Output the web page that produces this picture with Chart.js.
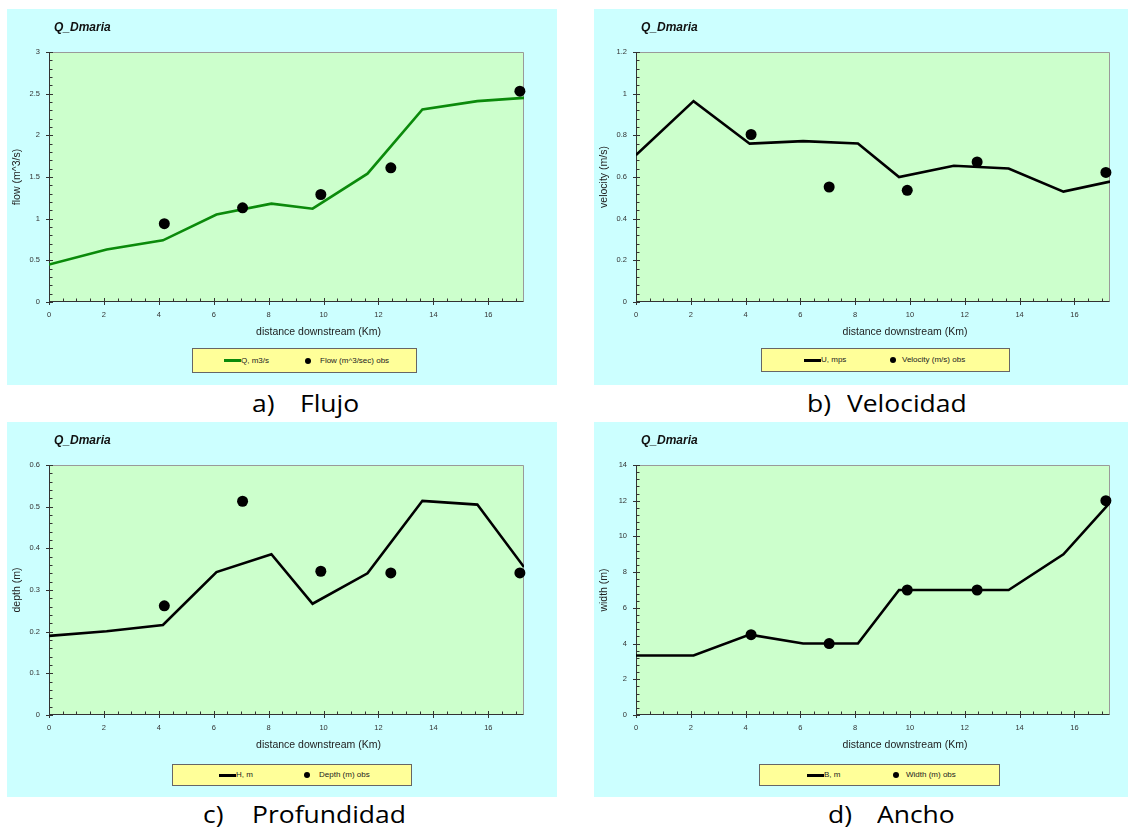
<!DOCTYPE html>
<html>
<head>
<meta charset="utf-8">
<script src="https://cdn.jsdelivr.net/npm/chart.js@4.4.1/dist/chart.umd.min.js"></script>
<style>
  body { margin: 0; width: 1131px; height: 828px; position: relative; overflow: hidden; background: #fff; font-family: "Liberation Sans", Arial, sans-serif; }
  canvas { position: absolute; }
  .legend { position: absolute; background: #ffff99; border: 1px solid #666; box-sizing: border-box; }
  .legend span { position: absolute; font-size: 8px; color: #222; white-space: nowrap; line-height: 10px; }
  .cap { position: absolute; font-family: "Open Sans", sans-serif; font-size: 23px; line-height: 23px; color: #000; white-space: nowrap; transform-origin: 0 0; transform: scaleX(1.15); }
</style>
</head>
<body>
<script>
// distances (km) of model nodes and of the observation stations
const distModel = [0, 2.1, 4.15, 6.1, 8.1, 9.6, 11.6, 13.6, 15.6, 17.3];
const distObs = [4.2, 7.05, 9.9, 12.45, 17.15];

const flowModel = [0.45, 0.63, 0.74, 1.05, 1.18, 1.12, 1.54, 2.31, 2.41, 2.45];
const flowObs = [0.94, 1.13, 1.29, 1.61, 2.53];

const velModel = [0.705, 0.964, 0.76, 0.772, 0.761, 0.60, 0.654, 0.641, 0.53, 0.578];
const velObs = [0.804, 0.552, 0.536, 0.672, 0.622];

const depthModel = [0.19, 0.201, 0.216, 0.343, 0.386, 0.267, 0.34, 0.514, 0.505, 0.355];
const depthObs = [0.262, 0.513, 0.345, 0.341, 0.341];

const widthModel = [3.33, 3.33, 4.5, 4.0, 4.0, 7.0, 7.0, 7.0, 9.0, 11.9];
const widthObs = [4.5, 4.0, 7.0, 7.0, 12.0];

const xTicks = [0, 2, 4, 6, 8, 10, 12, 14, 16];

const panels = [
  { box: [7, 9, 550, 376], area: [49, 52, 524, 302], yMax: 3, yStep: 0.5, yTitle: 'flow (m^3/s)',
    model: flowModel, obs: flowObs, color: '#0b8a0b', lineLabel: 'Q, m3/s', obsLabel: 'Flow (m^3/sec) obs',
    leg: [192, 348, 225, 25], legLine: 223, legDot: 307, legText: 319, cap: ['a)', 'Flujo'], capX: [252, 300], capBase: 412 },
  { box: [594, 9, 534, 376], area: [636, 52, 1110, 302], yMax: 1.2, yStep: 0.2, yTitle: 'velocity (m/s)',
    model: velModel, obs: velObs, color: '#000', lineLabel: 'U, mps', obsLabel: 'Velocity (m/s) obs',
    leg: [761, 348, 249, 24], legLine: 803, legDot: 892, legText: 901, cap: ['b)', 'Velocidad'], capX: [807, 847], capBase: 412 },
  { box: [7, 422, 550, 375], area: [49, 465, 524, 715], yMax: 0.6, yStep: 0.1, yTitle: 'depth (m)',
    model: depthModel, obs: depthObs, color: '#000', lineLabel: 'H, m', obsLabel: 'Depth (m) obs',
    leg: [172, 764, 240, 22], legLine: 218, legDot: 306, legText: 318, cap: ['c)', 'Profundidad'], capX: [203, 252], capBase: 823 },
  { box: [594, 422, 534, 375], area: [636, 465, 1110, 715], yMax: 14, yStep: 2, yTitle: 'width (m)',
    model: widthModel, obs: widthObs, color: '#000', lineLabel: 'B, m', obsLabel: 'Width (m) obs',
    leg: [759, 764, 241, 22], legLine: 806, legDot: 895, legText: 905, cap: ['d)', 'Ancho'], capX: [828, 877], capBase: 823 }
];

const font = '"Liberation Sans", Arial, sans-serif';

// background, plot frame, tick marks and texts drawn around the plot
const frame = {
  id: 'frame',
  beforeDraw(chart) {
    const { ctx, chartArea: a } = chart;
    ctx.save();
    ctx.fillStyle = '#ccffff';
    ctx.fillRect(0, 0, chart.width, chart.height);
    ctx.fillStyle = '#ccffcc';
    ctx.fillRect(a.left, a.top, a.right - a.left, a.bottom - a.top);
    ctx.restore();
  },
  beforeDatasetsDraw(chart, args, opts) {
    const { ctx, chartArea: a, scales } = chart;
    const L = Math.round(a.left) + 0.5, R = Math.round(a.right) - 0.5;
    const T = Math.round(a.top) + 0.5, B = Math.round(a.bottom) - 0.5;
    ctx.save();
    ctx.lineWidth = 1;
    ctx.strokeStyle = '#9a9a9a';
    ctx.beginPath();
    ctx.moveTo(L, T); ctx.lineTo(R, T); ctx.lineTo(R, B);
    ctx.stroke();
    ctx.strokeStyle = '#333';
    ctx.beginPath();
    ctx.moveTo(L, T); ctx.lineTo(L, B); ctx.lineTo(R, B);
    // x ticks
    for (let v = 0; v <= scales.x.max + 1e-9; v += 0.5) {
      const px = Math.round(scales.x.getPixelForValue(v)) + 0.5;
      const major = Math.abs(v / 2 - Math.round(v / 2)) < 1e-6;
      ctx.moveTo(px, major ? B + 3.5 : B);
      ctx.lineTo(px, major ? B - 3.5 : B - 3);
    }
    // y ticks
    const minor = opts.yStep / 5;
    for (let i = 0; i * minor <= scales.y.max + 1e-9; i++) {
      const py = Math.round(scales.y.getPixelForValue(i * minor)) + 0.5;
      const major = i % 5 === 0;
      ctx.moveTo(major ? L - 3.5 : L, py);
      ctx.lineTo(major ? L + 3.5 : L + 3, py);
    }
    ctx.stroke();
    ctx.restore();
  },
  afterDraw(chart) {
    const { ctx, chartArea: a } = chart;
    ctx.save();
    ctx.fillStyle = '#111';
    ctx.textBaseline = 'alphabetic';
    ctx.textAlign = 'left';
    ctx.font = 'italic bold 12px ' + font;
    ctx.fillText('Q_Dmaria', a.left + 5, 22);
    ctx.fillStyle = '#222';
    ctx.font = '10.5px ' + font;
    ctx.textAlign = 'center';
    ctx.textBaseline = 'middle';
    ctx.fillText('distance downstream (Km)', (a.left + a.right) / 2 + 32, a.bottom + 30);
    ctx.restore();
  }
};

const fmt = v => String(+Number(v).toFixed(3));

panels.forEach(p => {
  const [bx, by, bw, bh] = p.box;
  const canvas = document.createElement('canvas');
  canvas.width = bw; canvas.height = bh;
  canvas.style.left = bx + 'px'; canvas.style.top = by + 'px';
  canvas.style.width = bw + 'px'; canvas.style.height = bh + 'px';
  document.body.appendChild(canvas);

  const areaTop = p.area[1] - by, areaRight = p.area[2] - bx, areaBottom = p.area[3] - by;
  const yWidth = p.area[0] - bx;
  const xHeight = 20;

  new Chart(canvas, {
    type: 'scatter',
    data: {
      datasets: [
        { label: p.lineLabel, data: distModel.map((d, i) => ({ x: d, y: p.model[i] })), showLine: true,
          borderColor: p.color, borderWidth: 2.6, pointRadius: 0, tension: 0, order: 2 },
        { label: p.obsLabel, data: distObs.map((d, i) => ({ x: d, y: p.obs[i] })), showLine: false,
          backgroundColor: '#000', borderColor: '#000', pointRadius: 5.5, borderWidth: 0, clip: false, order: 1 }
      ]
    },
    options: {
      responsive: false,
      animation: false,
      layout: { padding: { left: 0, top: areaTop, right: bw - areaRight, bottom: bh - areaBottom - xHeight } },
      plugins: { legend: { display: false }, tooltip: { enabled: false }, frame: { yStep: p.yStep } },
      scales: {
        x: {
          type: 'linear', min: 0, max: 17.3,
          grid: { display: false, drawTicks: false }, border: { display: false },
          afterBuildTicks: s => { s.ticks = xTicks.map(v => ({ value: v })); },
          ticks: { padding: 8, color: '#333', font: { size: 7.5, family: font }, maxRotation: 0, autoSkip: false, callback: fmt },
          afterFit: s => { s.height = xHeight; }
        },
        y: {
          min: 0, max: p.yMax,
          grid: { display: false, drawTicks: false }, border: { display: false },
          ticks: { stepSize: p.yStep, padding: 9, color: '#333', font: { size: 7.5, family: font }, callback: fmt },
          title: { display: true, text: p.yTitle, color: '#222', font: { size: 10.5, family: font }, padding: { top: 4, bottom: 0 } },
          afterFit: s => { s.width = yWidth; }
        }
      }
    },
    plugins: [frame]
  });

  // legend box
  const [lx, ly, lw, lh] = p.leg;
  const leg = document.createElement('div');
  leg.className = 'legend';
  leg.style.cssText = `left:${lx}px;top:${ly}px;width:${lw}px;height:${lh}px`;
  const mid = lh / 2 - 1;
  leg.innerHTML =
    `<span style="left:${p.legLine - lx}px;top:${mid - 1.5}px;width:17px;height:3px;background:${p.color}"></span>` +
    `<span style="left:${p.legLine - lx + 17}px;top:${mid - 5}px">${p.lineLabel}</span>` +
    `<span style="left:${p.legDot - lx - 3}px;top:${mid - 3}px;width:6px;height:6px;border-radius:50%;background:#000"></span>` +
    `<span style="left:${p.legText - lx}px;top:${mid - 5}px">${p.obsLabel}</span>`;
  document.body.appendChild(leg);

  // caption under the panel
  p.cap.forEach((t, i) => {
    const c = document.createElement('div');
    c.className = 'cap';
    c.textContent = t;
    c.style.left = p.capX[i] + 'px';
    c.style.top = (p.capBase - 20.4) + 'px';
    document.body.appendChild(c);
  });
});
</script>
</body>
</html>
